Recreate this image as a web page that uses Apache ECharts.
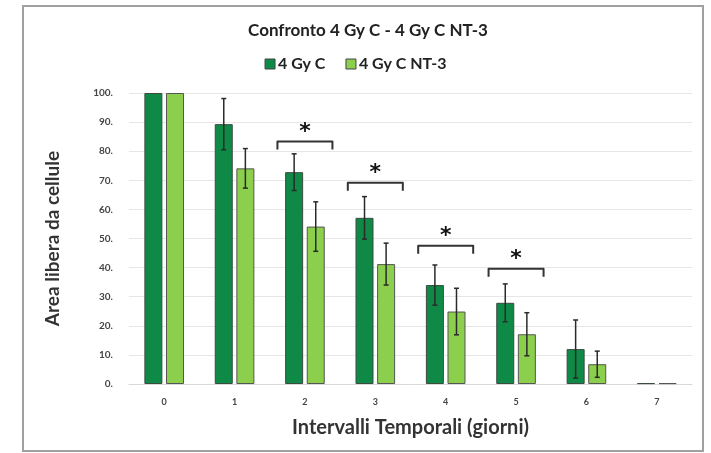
<!DOCTYPE html>
<html>
<head>
<meta charset="utf-8">
<script src="https://cdn.jsdelivr.net/npm/echarts@6/dist/echarts.min.js"></script>
<style>
html,body{margin:0;padding:0;background:#fff;}
#frame{position:absolute;left:22px;top:5px;width:682px;height:447px;border:2px solid #a0a0a0;box-sizing:border-box;}
#chart{position:absolute;left:0;top:0;width:711px;height:453px;}
</style>
</head>
<body>
<div id="frame"></div>
<div id="chart"></div>
<script>
var categories = ['0', '1', '2', '3', '4', '5', '6', '7'];
var seriesNames = ['4 Gy C', '4 Gy C NT-3'];
var darkVals = [100, 89.3, 72.8, 57.1, 34.0, 27.9, 12.0, 0.3];
var lightVals = [100, 74.1, 54.1, 41.2, 24.9, 17.1, 6.8, 0.3];
var darkErr = [0, 8.8, 6.3, 7.3, 6.9, 6.5, 10.0, 0];
var lightErr = [0, 6.8, 8.5, 7.2, 8.0, 7.4, 4.5, 0];
var bracketCats = ['2', '3', '4', '5'];
var bracketLevels = [83.3, 69.2, 47.5, 39.6];

var BAR_W = 18, BAR_GAP = 3.6;
var OFFSETS = [-(BAR_W + BAR_GAP) / 2, (BAR_W + BAR_GAP) / 2];

function errData(vals, errs) {
  var out = [];
  for (var i = 0; i < vals.length; i++) {
    if (errs[i] > 0) out.push([i, vals[i] - errs[i], vals[i] + errs[i]]);
  }
  return out;
}

function errRender(k) {
  return function (params, api) {
    var lo = api.coord([api.value(0), api.value(1)]);
    var hi = api.coord([api.value(0), api.value(2)]);
    var x = lo[0] + OFFSETS[k];
    var cap = 2.5;
    var st = { stroke: '#2a2a2a', lineWidth: 1.5 };
    return {
      type: 'group',
      children: [
        { type: 'line', shape: { x1: x, y1: lo[1], x2: x, y2: hi[1] }, style: st },
        { type: 'line', shape: { x1: x - cap, y1: lo[1], x2: x + cap, y2: lo[1] }, style: st },
        { type: 'line', shape: { x1: x - cap, y1: hi[1], x2: x + cap, y2: hi[1] }, style: st }
      ]
    };
  };
}

var bracketData = bracketCats.map(function (c, i) { return [categories.indexOf(c), bracketLevels[i]]; });

function bracketRender(params, api) {
  var p = api.coord([api.value(0), api.value(1)]);
  var half = 27.5, leg = 8;
  return {
    type: 'group',
    children: [
      { type: 'polyline', shape: { points: [[p[0] - half, p[1] + leg], [p[0] - half, p[1]], [p[0] + half, p[1]], [p[0] + half, p[1] + leg]] },
        style: { stroke: '#333', lineWidth: 2, fill: null, lineJoin: 'round' } },
      { type: 'text', x: p[0], y: p[1] - 9,
        style: { text: '*', fill: '#111', font: 'bold 22px "DejaVu Sans"', textAlign: 'center', textVerticalAlign: 'middle' } }
    ]
  };
}

var chart = echarts.init(document.getElementById('chart'));
chart.setOption({
  animation: false,
  backgroundColor: 'transparent',
  title: {
    text: 'Confronto 4 Gy C - 4 Gy C NT-3',
    left: 363, textAlign: 'center', top: 17,
    textStyle: { fontFamily: 'Lato', fontWeight: 'bold', fontSize: 17, color: '#222' }
  },
  legend: {
    top: 51, left: 'center', padding: [5, 5, 5, 19],
    itemWidth: 10, itemHeight: 10, itemGap: 20, icon: 'rect',
    data: seriesNames,
    itemStyle: { borderColor: '#444', borderWidth: 1 },
    textStyle: { fontFamily: 'Lato', fontWeight: 'bold', fontSize: 16, color: '#222', padding: [0, 0, 0, -2] }
  },
  grid: { left: 129, right: 19, top: 93, bottom: 69, containLabel: false },
  xAxis: {
    type: 'category', data: categories,
    name: 'Intervalli Temporali (giorni)', nameLocation: 'middle', nameGap: 34,
    nameTextStyle: { fontFamily: 'Lato', fontWeight: 'bold', fontSize: 20, color: '#333' },
    axisLine: { show: true, lineStyle: { color: '#d9d9d9' } },
    axisTick: { show: false },
    axisLabel: { margin: 14, fontFamily: 'Lato', fontWeight: 'bold', fontSize: 9, color: '#444' }
  },
  yAxis: {
    type: 'value', min: 0, max: 100, interval: 10,
    name: 'Area libera da cellule', nameLocation: 'middle', nameGap: 67,
    nameTextStyle: { fontFamily: 'Lato', fontWeight: 'bold', fontSize: 19, color: '#333' },
    axisLine: { show: false }, axisTick: { show: false },
    splitLine: { lineStyle: { color: '#e6e6e6' } },
    axisLabel: { margin: 16, fontFamily: 'Lato', fontWeight: 'bold', fontSize: 10, color: '#444',
      formatter: function (v) { return v + '.'; } }
  },
  series: [
    { name: seriesNames[0], type: 'bar', data: darkVals, barWidth: BAR_W, barGap: '20%',
      itemStyle: { color: '#0e8a46', borderColor: '#3c4a40', borderWidth: 1 } },
    { name: seriesNames[1], type: 'bar', data: lightVals, barWidth: BAR_W,
      itemStyle: { color: '#8ccf4d', borderColor: '#555', borderWidth: 1 } },
    { type: 'custom', renderItem: errRender(0), data: errData(darkVals, darkErr), z: 10 },
    { type: 'custom', renderItem: errRender(1), data: errData(lightVals, lightErr), z: 10 },
    { type: 'custom', renderItem: bracketRender, data: bracketData, z: 10 }
  ]
});
</script>
</body>
</html>
